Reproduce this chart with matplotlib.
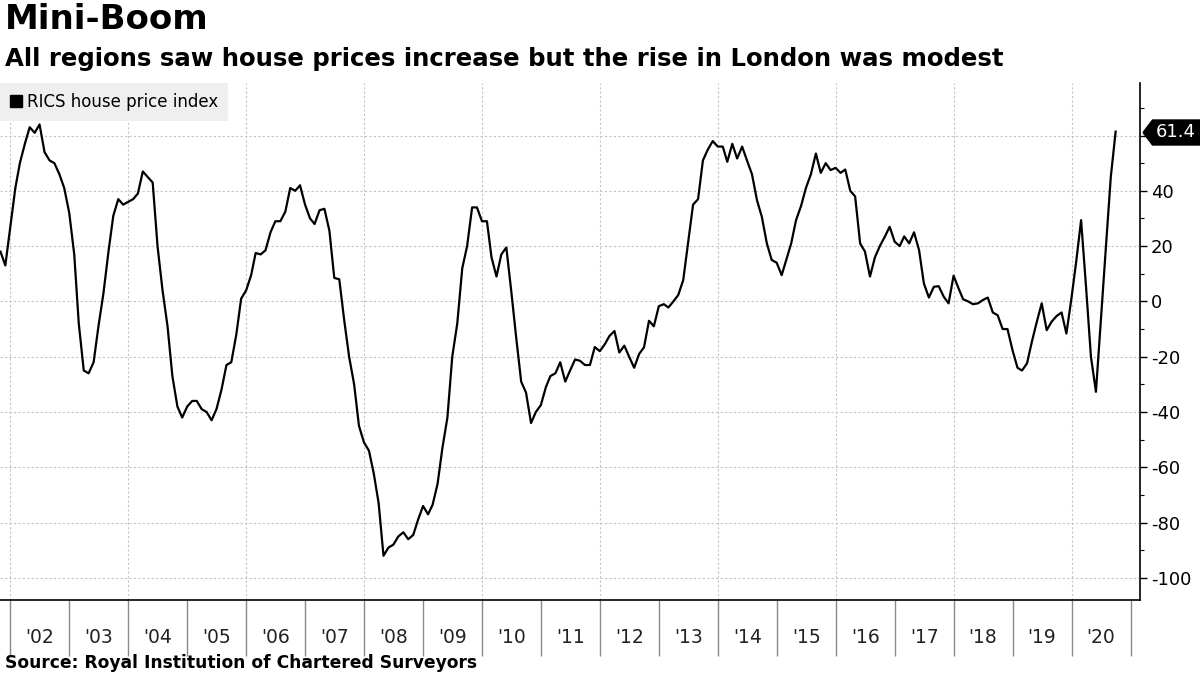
import matplotlib
matplotlib.use("Agg")
import matplotlib.pyplot as plt
import matplotlib.dates as mdates
import pandas as pd
from matplotlib.lines import Line2D
from matplotlib.path import Path
from matplotlib.ticker import MultipleLocator, FixedLocator, NullFormatter, FixedFormatter
from matplotlib.transforms import offset_copy

# monthly RICS house price balance, Oct 2001 - Sep 2020
first_month = "2001-10-31"
rics_index = [
    18, 13, 27,                                                # 2001 Oct-Dec
    41, 50, 57, 63, 61, 64, 54, 51, 50, 46, 41, 32,            # 2002
    17, -8, -25, -26, -22, -9, 3, 18, 31, 37, 35, 36,          # 2003
    37, 39, 47, 45, 43, 20, 4, -9, -27, -38, -42, -38,         # 2004
    -36, -36, -39, -40, -43, -39, -32, -23, -22, -12, 1, 4,    # 2005
    9.5, 17.5, 17, 18.5, 25, 29, 29, 32.5, 41, 40, 42, 35,     # 2006
    30, 28, 33, 33.5, 25.5, 8.5, 8, -7, -20, -30, -45, -51,    # 2007
    -54, -62, -73, -92, -89, -88, -85, -83.5, -86, -84.5, -79, -74,  # 2008
    -77, -73.6, -66, -53, -42, -20, -8, 12, 20, 34, 34, 29,    # 2009
    29, 16, 9, 17, 19.5, 4, -13, -29, -33, -44, -40, -37.5,    # 2010
    -31, -27, -26, -22, -29, -25, -21, -21.5, -23, -23, -16.5, -18,  # 2011
    -15.5, -12.5, -10.7, -18.5, -16, -20, -24, -19, -16.6, -7, -9, -1.7,  # 2012
    -1, -2.2, 0, 2.3, 7.7, 21, 35, 37, 51, 55, 58, 56,         # 2013
    56, 50.5, 57, 51.7, 56, 51, 46, 36.6, 30.6, 21, 15, 14,    # 2014
    9.5, 15, 21, 29.4, 34.5, 41, 46, 53.5, 46.5, 50, 47.5, 48.3,  # 2015
    46.5, 47.7, 40, 38, 21, 18, 9, 16, 20, 23.4, 27, 21.6,     # 2016
    20, 23.5, 21, 25, 18.6, 6.5, 1.4, 5.3, 5.5, 1.7, -0.7, 9.3,  # 2017
    4.7, 0.8, 0, -1, -0.7, 0.5, 1.4, -4, -5, -10, -10, -17.6,  # 2018
    -24, -25, -22.4, -14.6, -7.3, -0.7, -10.4, -7.3, -5.3, -4, -11.6, 1,  # 2019
    15, 29.4, 5, -20, -32.7, -7, 19, 45, 61.4,                 # 2020 Jan-Sep
]
years = list(range(2002, 2021))
year_labels = ["'" + str(y)[2:] for y in years]
y_ticks = [-100, -80, -60, -40, -20, 0, 20, 40, 60]
# the 60 label sits under the last-value tag, so it is left blank
y_tick_labels = ["-100", "-80", "-60", "-40", "-20", "0", "20", "40", ""]

title = "Mini-Boom"
subtitle = "All regions saw house prices increase but the rise in London was modest"
legend_label = "RICS house price index"
source = "Source: Royal Institution of Chartered Surveyors"

dates = pd.date_range(first_month, periods=len(rics_index), freq="ME")

fig = plt.figure(figsize=(12, 6.75), dpi=100)
ax = fig.add_axes([0, 75 / 675, 1140 / 1200, 517 / 675])

ax.plot(dates, rics_index, color="black", lw=1.6, zorder=3)

ax.set_xlim(pd.Timestamp("2001-10-28"), pd.Timestamp("2021-02-28"))
ax.set_ylim(-108, 79)

for side in ["left", "top"]:
    ax.spines[side].set_visible(False)
for side in ["right", "bottom"]:
    ax.spines[side].set_color("black")
    ax.spines[side].set_linewidth(1.2)

# y axis on the right
ax.yaxis.tick_right()
ax.yaxis.set_major_locator(FixedLocator(y_ticks))
ax.yaxis.set_major_formatter(FixedFormatter(y_tick_labels))
ax.yaxis.set_minor_locator(MultipleLocator(10))
ax.tick_params(axis="y", which="major", length=5, width=1, labelsize=13,
               pad=3, colors="black")
ax.tick_params(axis="y", which="minor", length=3, width=0.8)
ax.grid(axis="y", which="major", linestyle=(0, (2, 2)), color="#c4c4c4", lw=0.8)

# x axis: year separators, labels in between
year_starts = [pd.Timestamp(f"{y}-01-01") for y in years + [years[-1] + 1]]
mid_years = [pd.Timestamp(f"{y}-07-02") for y in years]
ax.xaxis.set_major_locator(FixedLocator(mdates.date2num(year_starts)))
ax.xaxis.set_major_formatter(NullFormatter())
ax.xaxis.set_minor_locator(FixedLocator(mdates.date2num(mid_years)))
ax.xaxis.set_minor_formatter(FixedFormatter(year_labels))
ax.tick_params(axis="x", which="major", length=40, width=1, color="#8a8a8a")
ax.tick_params(axis="x", which="minor", length=0, labelsize=13.5, pad=20,
               labelcolor="#222222")
for y in years[::2]:
    ax.axvline(pd.Timestamp(f"{y}-01-01"), linestyle=(0, (2, 2)),
               color="#c4c4c4", lw=0.8, zorder=1)

# legend
handle = Line2D([0], [0], marker="s", ls="none", color="black", markersize=8)
leg = ax.legend([handle], [legend_label], loc="upper left", bbox_to_anchor=(0, 1),
                borderaxespad=0, fancybox=False, facecolor="#efefef",
                edgecolor="none", framealpha=1, fontsize=12,
                handlelength=0.7, handletextpad=0.3, borderpad=0.6)
leg.set_zorder(5)

# last value tag
last = rics_index[-1]
tag = Path([(-28.5, 0), (-19, 12.5), (28.5, 12.5), (28.5, -12.5), (-19, -12.5), (-28.5, 0)])
tr = offset_copy(ax.get_yaxis_transform(), fig=fig, x=31, y=0, units="dots")
ax.plot([1], [last], marker=tag, ms=41, color="black", transform=tr,
        clip_on=False, zorder=6)
tr_text = offset_copy(ax.get_yaxis_transform(), fig=fig, x=36, y=0, units="dots")
ax.text(1, last, f"{last:.1f}", transform=tr_text, ha="center", va="center",
        color="white", fontsize=13, zorder=7, clip_on=False)

fig.text(5 / 1200, 1 - 3 / 675, title, fontsize=24.5, fontweight="bold", va="top")
fig.text(5 / 1200, 1 - 47 / 675, subtitle, fontsize=17.6, fontweight="bold", va="top")
fig.text(5 / 1200, 1 - 663 / 675, source, fontsize=12.3, fontweight="bold", va="center")

fig.savefig("out.png", dpi=100)
